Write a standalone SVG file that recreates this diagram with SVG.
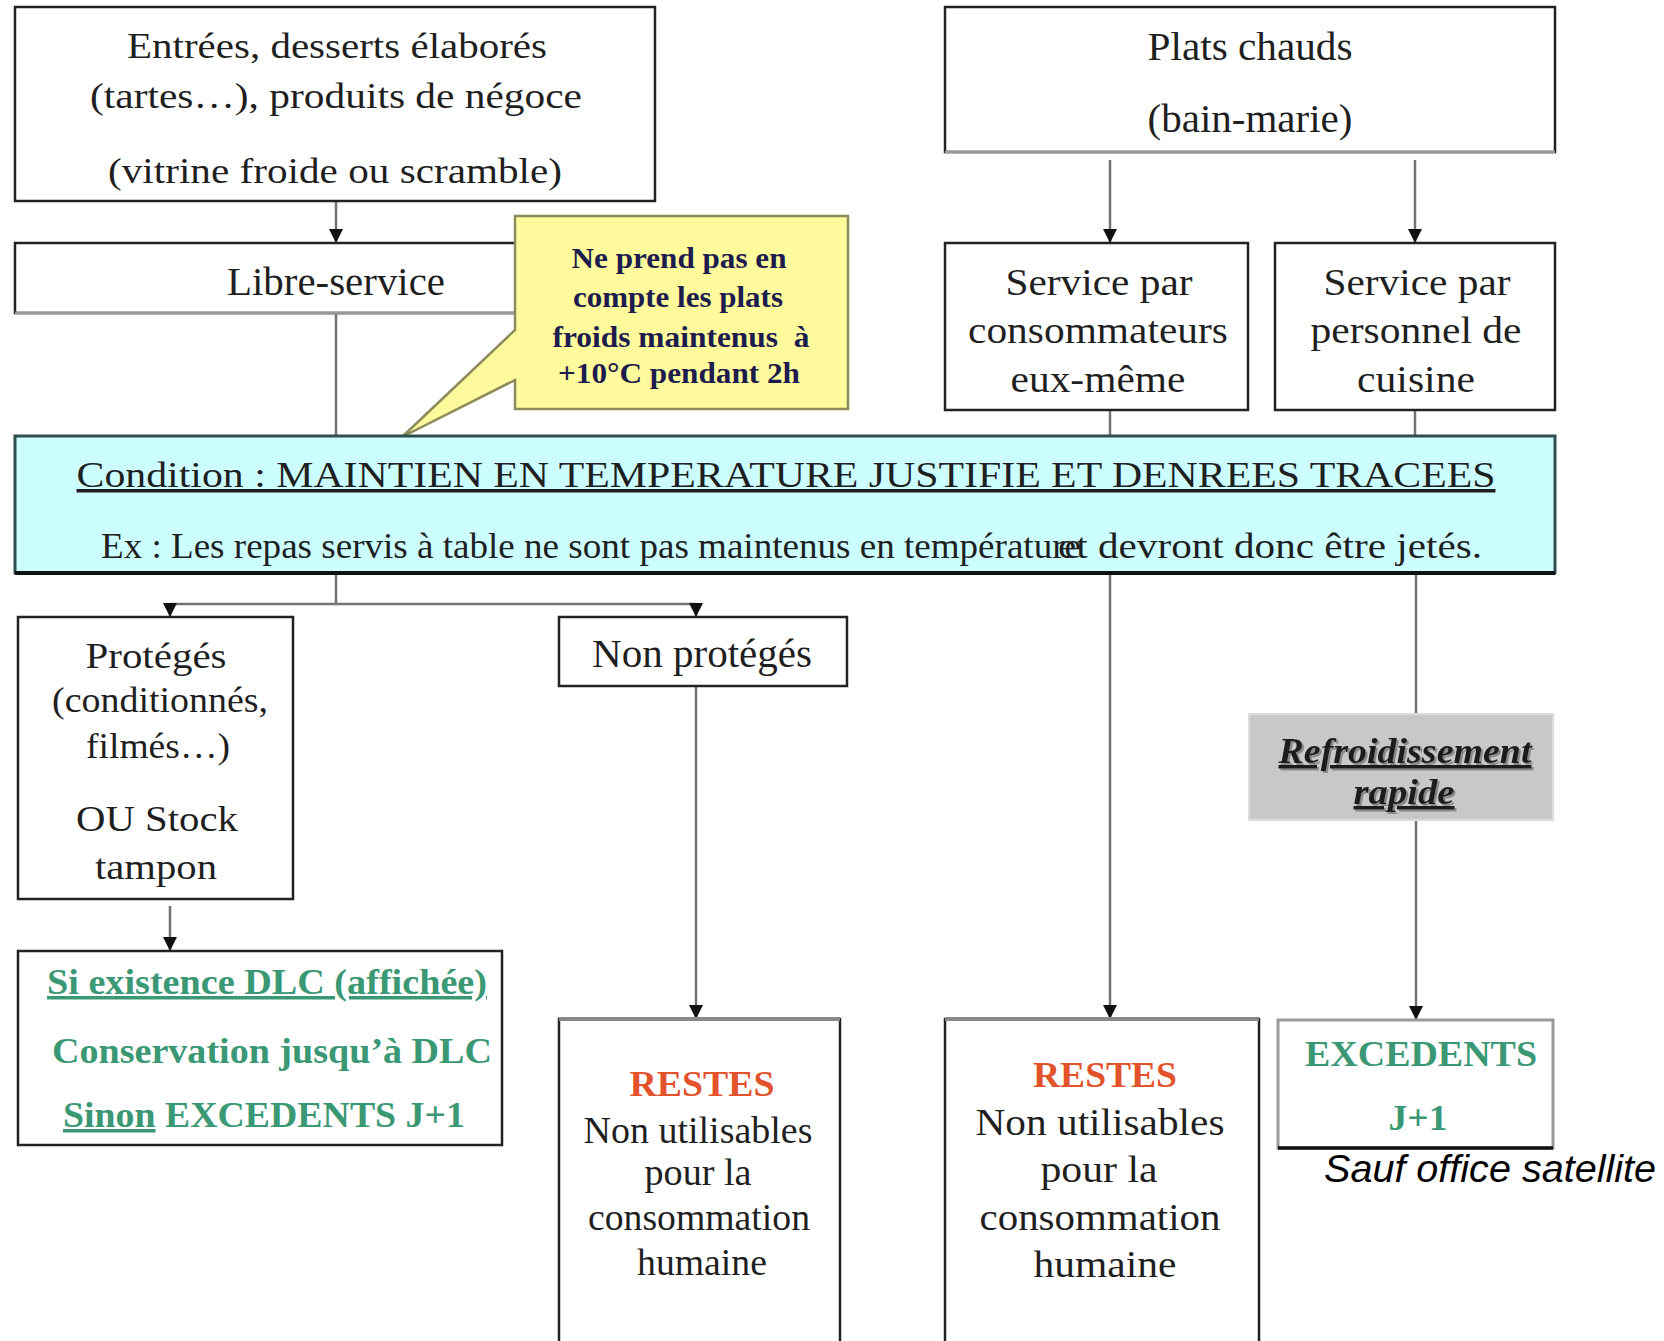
<svg xmlns="http://www.w3.org/2000/svg" width="1664" height="1341" viewBox="0 0 1664 1341">
<defs>
<style>
.t{font-family:"Liberation Serif","Times New Roman",serif;fill:#1f1f1f;text-anchor:middle}
.b{font-weight:bold}
.box{fill:#fff;stroke:#222;stroke-width:2.5}
.ln{stroke:#737373;stroke-width:2.5;fill:none}
.grn{fill:#3a9874}
.red{fill:#e2522b}
.nav{fill:#1c1c4e}
</style>
<marker id="ah" viewBox="0 0 14 14" refX="14" refY="7" markerWidth="14" markerHeight="14" markerUnits="userSpaceOnUse" orient="auto"><path d="M0,0 L14,7 L0,14 z" fill="#111"/></marker>
<filter id="sh" x="-5%" y="-20%" width="110%" height="140%"><feDropShadow dx="2" dy="2" stdDeviation="0.6" flood-color="#777" flood-opacity="0.8"/></filter>
</defs>
<rect width="1664" height="1341" fill="#fff"/>

<g id="connectors">
<line class="ln" x1="336" y1="201" x2="336" y2="243" marker-end="url(#ah)"/>
<line class="ln" x1="336" y1="313" x2="336" y2="436"/>
<line class="ln" x1="336" y1="573" x2="336" y2="604"/>
<line class="ln" x1="170" y1="604" x2="696" y2="604"/>
<line class="ln" x1="170" y1="604" x2="170" y2="617" marker-end="url(#ah)"/>
<line class="ln" x1="696" y1="604" x2="696" y2="617" marker-end="url(#ah)"/>
<line class="ln" x1="170" y1="906" x2="170" y2="951" marker-end="url(#ah)"/>
<line class="ln" x1="696" y1="686" x2="696" y2="1019" marker-end="url(#ah)"/>
<line class="ln" x1="1110" y1="160" x2="1110" y2="243" marker-end="url(#ah)"/>
<line class="ln" x1="1415" y1="160" x2="1415" y2="243" marker-end="url(#ah)"/>
<line class="ln" x1="1110" y1="410" x2="1110" y2="436"/>
<line class="ln" x1="1415" y1="410" x2="1415" y2="436"/>
<line class="ln" x1="1110" y1="573" x2="1110" y2="1019" marker-end="url(#ah)"/>
<line class="ln" x1="1416" y1="573" x2="1416" y2="714"/>
<line class="ln" x1="1416" y1="820" x2="1416" y2="1020" marker-end="url(#ah)"/>
</g>

<g id="n-entrees">
<rect class="box" x="15" y="7" width="640" height="194" stroke="#333"/>
<text class="t" x="337" y="58" font-size="36" textLength="420" lengthAdjust="spacingAndGlyphs">Entrées, desserts élaborés</text>
<text class="t" x="336" y="108" font-size="36" textLength="492" lengthAdjust="spacingAndGlyphs">(tartes…), produits de négoce</text>
<text class="t" x="335" y="183" font-size="36" textLength="454" lengthAdjust="spacingAndGlyphs">(vitrine froide ou scramble)</text>
</g>

<g id="n-libre">
<rect class="box" x="15" y="243" width="640" height="70"/>
<line x1="15" y1="313" x2="655" y2="313" stroke="#999" stroke-width="3"/>
<text class="t" x="336" y="295" font-size="40" textLength="218" lengthAdjust="spacingAndGlyphs">Libre-service</text>
</g>

<g id="n-callout">
<path d="M515,216 H848 V409 H515 V380 L402,437 L515,330 Z" fill="#fffb9c" stroke="#8b8b5b" stroke-width="2.5"/>
<text class="t b nav" x="679" y="268" font-size="30" textLength="215" lengthAdjust="spacingAndGlyphs">Ne prend pas en</text>
<text class="t b nav" x="678" y="307" font-size="30" textLength="210" lengthAdjust="spacingAndGlyphs">compte les plats</text>
<text class="t b nav" x="681" y="347" font-size="30" textLength="257" lengthAdjust="spacingAndGlyphs">froids maintenus&#160; à</text>
<text class="t b nav" x="679" y="383" font-size="30" textLength="242" lengthAdjust="spacingAndGlyphs">+10°C pendant 2h</text>
</g>

<g id="n-plats">
<rect class="box" x="945" y="7" width="610" height="145" stroke="#444"/>
<line x1="945" y1="152" x2="1555" y2="152" stroke="#999" stroke-width="3"/>
<text class="t" x="1250" y="60" font-size="40" textLength="205" lengthAdjust="spacingAndGlyphs">Plats chauds</text>
<text class="t" x="1250" y="132" font-size="40" textLength="205" lengthAdjust="spacingAndGlyphs">(bain-marie)</text>
</g>

<g id="n-svc-conso">
<rect class="box" x="945" y="243" width="303" height="167"/>
<text class="t" x="1099" y="295" font-size="38" textLength="187" lengthAdjust="spacingAndGlyphs">Service par</text>
<text class="t" x="1098" y="343" font-size="38" textLength="260" lengthAdjust="spacingAndGlyphs">consommateurs</text>
<text class="t" x="1098" y="392" font-size="38" textLength="175" lengthAdjust="spacingAndGlyphs">eux-même</text>
</g>

<g id="n-svc-perso">
<rect class="box" x="1275" y="243" width="280" height="167"/>
<text class="t" x="1417" y="295" font-size="38" textLength="187" lengthAdjust="spacingAndGlyphs">Service par</text>
<text class="t" x="1416" y="343" font-size="38" textLength="211" lengthAdjust="spacingAndGlyphs">personnel de</text>
<text class="t" x="1416" y="392" font-size="38" textLength="118" lengthAdjust="spacingAndGlyphs">cuisine</text>
</g>

<g id="n-condition">
<rect x="15" y="436" width="1540" height="137" fill="#ccfeff" stroke="#2f4f4f" stroke-width="3"/>
<line x1="15" y1="573" x2="1555" y2="573" stroke="#111" stroke-width="4"/>
<text class="t" x="786" y="487" font-size="35" fill="#333" text-decoration="underline" textLength="1419" lengthAdjust="spacingAndGlyphs">Condition : MAINTIEN EN TEMPERATURE JUSTIFIE ET DENREES TRACEES</text>
<text class="t" x="591" y="558" font-size="35" textLength="980" lengthAdjust="spacingAndGlyphs">Ex : Les repas servis à table ne sont pas maintenus en température</text>
<text class="t" x="1270" y="558" font-size="35" textLength="424" lengthAdjust="spacingAndGlyphs">et devront donc être jetés.</text>
</g>

<g id="n-proteges">
<rect class="box" x="18" y="617" width="275" height="282"/>
<text class="t" x="156" y="668" font-size="36" textLength="141" lengthAdjust="spacingAndGlyphs">Protégés</text>
<text class="t" x="160" y="712" font-size="36" textLength="216" lengthAdjust="spacingAndGlyphs">(conditionnés,</text>
<text class="t" x="158" y="758" font-size="36" textLength="144" lengthAdjust="spacingAndGlyphs">filmés…)</text>
<text class="t" x="157" y="831" font-size="36" textLength="162" lengthAdjust="spacingAndGlyphs">OU Stock</text>
<text class="t" x="156" y="879" font-size="36" textLength="122" lengthAdjust="spacingAndGlyphs">tampon</text>
</g>

<g id="n-nonproteges">
<rect class="box" x="559" y="617" width="288" height="69"/>
<text class="t" x="702" y="667" font-size="40" textLength="220" lengthAdjust="spacingAndGlyphs">Non protégés</text>
</g>

<g id="n-dlc">
<rect class="box" x="18" y="951" width="484" height="194" stroke="#333"/>
<text class="t b grn" x="267" y="994" font-size="35" text-decoration="underline" textLength="440" lengthAdjust="spacingAndGlyphs">Si existence DLC (affichée)</text>
<text class="t b grn" x="272" y="1063" font-size="35" textLength="440" lengthAdjust="spacingAndGlyphs">Conservation jusqu’à DLC</text>
<text class="t b grn" x="264" y="1127" font-size="35" textLength="402" lengthAdjust="spacingAndGlyphs"><tspan text-decoration="underline">Sinon</tspan> EXCEDENTS J+1</text>
</g>

<g id="n-restes1">
<path d="M559,1341 V1019 H840 V1341" fill="#fff" stroke="#222" stroke-width="2.5"/>
<line x1="559" y1="1019" x2="840" y2="1019" stroke="#888" stroke-width="4"/>
<text class="t b red" x="702" y="1096" font-size="36" textLength="145" lengthAdjust="spacingAndGlyphs">RESTES</text>
<text class="t" x="698" y="1143" font-size="38" textLength="229" lengthAdjust="spacingAndGlyphs">Non utilisables</text>
<text class="t" x="698" y="1185" font-size="38" textLength="107" lengthAdjust="spacingAndGlyphs">pour la</text>
<text class="t" x="699" y="1230" font-size="38" textLength="222" lengthAdjust="spacingAndGlyphs">consommation</text>
<text class="t" x="702" y="1275" font-size="38" textLength="130" lengthAdjust="spacingAndGlyphs">humaine</text>
</g>

<g id="n-restes2">
<path d="M945,1341 V1019 H1259 V1341" fill="#fff" stroke="#222" stroke-width="2.5"/>
<line x1="945" y1="1019" x2="1259" y2="1019" stroke="#888" stroke-width="4"/>
<text class="t b red" x="1105" y="1087" font-size="36" textLength="144" lengthAdjust="spacingAndGlyphs">RESTES</text>
<text class="t" x="1100" y="1135" font-size="38" textLength="249" lengthAdjust="spacingAndGlyphs">Non utilisables</text>
<text class="t" x="1099" y="1182" font-size="38" textLength="117" lengthAdjust="spacingAndGlyphs">pour la</text>
<text class="t" x="1100" y="1230" font-size="38" textLength="241" lengthAdjust="spacingAndGlyphs">consommation</text>
<text class="t" x="1105" y="1277" font-size="38" textLength="143" lengthAdjust="spacingAndGlyphs">humaine</text>
</g>

<g id="n-refroid">
<rect x="1249" y="714" width="304" height="106" fill="#c8c8c8" stroke="#dcdcdc" stroke-width="2"/>
<text class="t b" x="1405" y="763" font-size="35" font-style="italic" fill="#111" filter="url(#sh)" text-decoration="underline" textLength="253" lengthAdjust="spacingAndGlyphs">Refroidissement</text>
<text class="t b" x="1404" y="804" font-size="35" font-style="italic" fill="#111" filter="url(#sh)" text-decoration="underline" textLength="101" lengthAdjust="spacingAndGlyphs">rapide</text>
</g>

<g id="n-excedents">
<rect x="1278" y="1020" width="275" height="128" fill="#fff" stroke="#999" stroke-width="3"/>
<line x1="1278" y1="1148" x2="1553" y2="1148" stroke="#111" stroke-width="3.5"/>
<text class="t b grn" x="1421" y="1066" font-size="36" textLength="232" lengthAdjust="spacingAndGlyphs">EXCEDENTS</text>
<text class="t b grn" x="1418" y="1130" font-size="36" textLength="59" lengthAdjust="spacingAndGlyphs">J+1</text>
</g>

<g id="n-sauf">
<text x="1324" y="1182" font-family="'Liberation Sans',Arial,sans-serif" font-style="italic" font-size="38" fill="#000" textLength="332" lengthAdjust="spacingAndGlyphs">Sauf office satellite</text>
</g>
</svg>
